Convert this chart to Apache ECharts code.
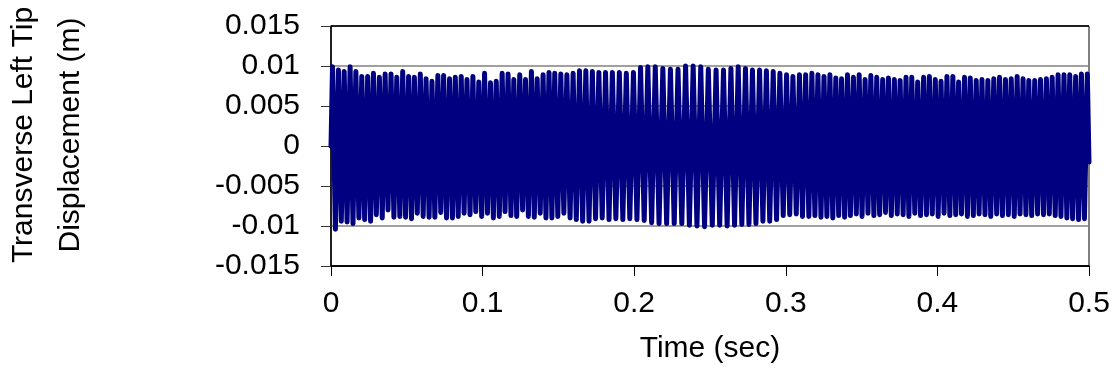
<!DOCTYPE html>
<html>
<head>
<meta charset="utf-8">
<script src="https://cdn.jsdelivr.net/npm/echarts@6/dist/echarts.min.js"></script>
<style>
html,body{margin:0;padding:0;background:#fff;}
#chart{width:1117px;height:373px;}
</style>
</head>
<body>
<div id="chart"></div>
<script>
// ---- data ----
const xTickLabels = ['0', '0.1', '0.2', '0.3', '0.4', '0.5'];
const yTickLabels = ['-0.015', '-0.01', '-0.005', '0', '0.005', '0.01', '0.015'];
const startPoint = [0, 0];
const endPoint = [0.5, -0.002];

const peakTime = [
  0.0010, 0.0049, 0.0087, 0.0126, 0.0164, 0.0203, 0.0242, 0.0280, 0.0319, 0.0357,
  0.0396, 0.0434, 0.0473, 0.0512, 0.0550, 0.0589, 0.0627, 0.0666, 0.0705, 0.0743,
  0.0782, 0.0820, 0.0859, 0.0897, 0.0936, 0.0975, 0.1013, 0.1052, 0.1090, 0.1129,
  0.1168, 0.1206, 0.1245, 0.1283, 0.1322, 0.1360, 0.1399, 0.1438, 0.1476,
  0.1516, 0.1556, 0.1597, 0.1639, 0.1681, 0.1724, 0.1767, 0.1811, 0.1856, 0.1902,
  0.1948, 0.1995, 0.2042, 0.2090, 0.2139, 0.2189, 0.2239, 0.2289, 0.2339, 0.2389,
  0.2439, 0.2489, 0.2540, 0.2589, 0.2638, 0.2686, 0.2734, 0.2780, 0.2827, 0.2872,
  0.2917, 0.2961, 0.3005, 0.3047, 0.3090, 0.3131, 0.3172, 0.3212, 0.3252, 0.3291, 0.3330,
  0.3368, 0.3407, 0.3446, 0.3484, 0.3523, 0.3561, 0.3600, 0.3639, 0.3677, 0.3716,
  0.3754, 0.3793, 0.3831, 0.3870, 0.3909, 0.3947, 0.3986, 0.4024, 0.4063, 0.4102,
  0.4140, 0.4179, 0.4217, 0.4256, 0.4294, 0.4333, 0.4372, 0.4410, 0.4449, 0.4487,
  0.4526, 0.4565, 0.4603, 0.4642, 0.4680, 0.4719, 0.4757, 0.4796, 0.4835, 0.4873,
  0.4912, 0.4950, 0.4989
];
const peakDisp = [
  0.0099, 0.0095, 0.0093, 0.0099, 0.0093, 0.0087, 0.0087, 0.0091, 0.0086, 0.0090,
  0.0090, 0.0086, 0.0093, 0.0087, 0.0086, 0.0090, 0.0084, 0.0081, 0.0088, 0.0088,
  0.0084, 0.0086,
  0.0087, 0.0083, 0.0087, 0.0080, 0.0091, 0.0079, 0.0081, 0.0091, 0.0090, 0.0083,
  0.0089, 0.0083, 0.0093, 0.0084, 0.0089, 0.0092, 0.0091, 0.0090, 0.0089, 0.0091,
  0.0094, 0.0094,
  0.0093, 0.0092, 0.0092, 0.0092, 0.0092, 0.0091, 0.0092, 0.0098, 0.0099, 0.0099,
  0.0097, 0.0096, 0.0096, 0.0100, 0.0100, 0.0099, 0.0096,
  0.0095, 0.0095, 0.0097, 0.0099, 0.0097, 0.0095, 0.0095, 0.0094, 0.0093, 0.0091,
  0.0089, 0.0087, 0.0089, 0.0089, 0.0091, 0.0089, 0.0087, 0.0089, 0.0085, 0.0084,
  0.0089, 0.0086, 0.0089, 0.0083, 0.0088, 0.0086, 0.0083, 0.0085, 0.0083, 0.0082,
  0.0086, 0.0086, 0.0080, 0.0086, 0.0087, 0.0083, 0.0081, 0.0087, 0.0087, 0.0080,
  0.0086, 0.0085,
  0.0082, 0.0083, 0.0082, 0.0084, 0.0086, 0.0083, 0.0084, 0.0087, 0.0084, 0.0082,
  0.0082, 0.0083, 0.0084, 0.0086, 0.0089, 0.0089, 0.0089, 0.0087, 0.0090, 0.0090
];
const troughTime = [
  0.0029, 0.0068, 0.0106, 0.0145, 0.0184, 0.0222, 0.0261, 0.0299, 0.0338, 0.0376,
  0.0415, 0.0454, 0.0492, 0.0531, 0.0569, 0.0608, 0.0647, 0.0685, 0.0724, 0.0762,
  0.0801, 0.0839, 0.0878, 0.0917, 0.0955, 0.0994, 0.1032, 0.1071, 0.1110, 0.1148,
  0.1187, 0.1225, 0.1264, 0.1302, 0.1341, 0.1380, 0.1418, 0.1457, 0.1496,
  0.1536, 0.1577, 0.1618, 0.1660, 0.1702, 0.1745, 0.1789, 0.1834, 0.1879, 0.1925,
  0.1971, 0.2018, 0.2066, 0.2115, 0.2164, 0.2214, 0.2264, 0.2314, 0.2364, 0.2414,
  0.2464, 0.2515, 0.2564, 0.2613, 0.2662, 0.2710, 0.2757, 0.2803, 0.2849, 0.2894,
  0.2939, 0.2983, 0.3026, 0.3069, 0.3110, 0.3152, 0.3192, 0.3232, 0.3271, 0.3310, 0.3349,
  0.3388, 0.3426, 0.3465, 0.3503, 0.3542, 0.3581, 0.3619, 0.3658, 0.3696, 0.3735,
  0.3774, 0.3812, 0.3851, 0.3889, 0.3928, 0.3966, 0.4005, 0.4044, 0.4082, 0.4121,
  0.4159, 0.4198, 0.4237, 0.4275, 0.4314, 0.4352, 0.4391, 0.4429, 0.4468, 0.4507,
  0.4545, 0.4584, 0.4622, 0.4661, 0.4700, 0.4738, 0.4777, 0.4815, 0.4854, 0.4892,
  0.4931, 0.4970
];
const troughDisp = [
  -0.0104, -0.0094, -0.0095, -0.0097, -0.0090, -0.0092, -0.0094, -0.0086, -0.0090, -0.0080,
  -0.0089, -0.0088, -0.0089, -0.0091, -0.0084, -0.0088, -0.0089, -0.0089, -0.0083, -0.0090,
  -0.0090, -0.0088,
  -0.0084, -0.0086, -0.0082, -0.0088, -0.0084, -0.0090, -0.0088, -0.0082, -0.0087, -0.0088,
  -0.0080, -0.0088, -0.0089, -0.0084, -0.0090, -0.0090, -0.0088, -0.0084, -0.0090, -0.0092,
  -0.0094, -0.0094,
  -0.0091, -0.0090, -0.0092, -0.0091, -0.0092, -0.0091, -0.0092, -0.0093, -0.0096, -0.0097,
  -0.0097, -0.0097, -0.0097, -0.0099, -0.0100, -0.0101, -0.0099,
  -0.0099, -0.0100, -0.0099, -0.0098, -0.0098, -0.0097, -0.0094, -0.0094, -0.0092, -0.0087,
  -0.0086, -0.0085, -0.0088, -0.0088, -0.0087, -0.0089, -0.0088, -0.0090, -0.0087, -0.0089,
  -0.0087, -0.0085, -0.0088, -0.0084, -0.0087, -0.0086, -0.0083, -0.0087, -0.0085, -0.0086,
  -0.0088, -0.0084, -0.0087, -0.0086, -0.0085, -0.0088, -0.0084, -0.0087, -0.0086, -0.0085,
  -0.0088, -0.0087,
  -0.0085, -0.0086, -0.0088, -0.0085, -0.0087, -0.0086, -0.0088, -0.0085, -0.0086, -0.0087,
  -0.0085, -0.0086, -0.0085, -0.0087, -0.0088, -0.0090, -0.0091, -0.0092, -0.0091
];

// ---- build series points (alternating peaks and troughs) ----
const seriesData = [startPoint];
for (let i = 0; i < peakTime.length; i++) {
  seriesData.push([peakTime[i], peakDisp[i]]);
  if (i < troughTime.length) seriesData.push([troughTime[i], troughDisp[i]]);
}
seriesData.push(endPoint);

const yMin = -0.015, yMax = 0.015, yStep = 0.005;
const xMin = 0, xMax = 0.5, xStep = 0.1;
const FONT = '"Liberation Sans", Arial, sans-serif';

const chart = echarts.init(document.getElementById('chart'), null, {renderer: 'canvas'});
chart.setOption({
  animation: false,
  backgroundColor: '#ffffff',
  grid: {
    left: 331, right: 28, top: 26, bottom: 107,
    show: true, borderColor: '#000000', borderWidth: 1, backgroundColor: 'transparent'
  },
  xAxis: {
    type: 'value', min: xMin, max: xMax, interval: xStep,
    name: 'Time (sec)', nameLocation: 'middle', nameGap: 68,
    nameTextStyle: {fontFamily: FONT, fontSize: 30, color: '#000'},
    axisLine: {show: true, onZero: false, lineStyle: {color: '#000', width: 1.5}},
    axisTick: {show: true, inside: false, length: 10, lineStyle: {color: '#000', width: 1}},
    axisLabel: {
      margin: 23, fontFamily: FONT, fontSize: 30, color: '#000',
      formatter: v => xTickLabels[Math.round((v - xMin) / xStep)]
    },
    splitLine: {show: false}
  },
  yAxis: {
    type: 'value', min: yMin, max: yMax, interval: yStep,
    axisLine: {show: true, onZero: false, lineStyle: {color: '#000', width: 1.5}},
    axisTick: {show: true, inside: false, length: 10, lineStyle: {color: '#333', width: 1}},
    axisLabel: {
      margin: 31, fontFamily: FONT, fontSize: 30, color: '#000',
      formatter: v => yTickLabels[Math.round((v - yMin) / yStep)]
    },
    splitLine: {
      show: true,
      lineStyle: {
        color: ['#000000', '#808080', '#808080', '#808080', '#808080', '#808080', '#000000'],
        width: 1.5
      }
    }
  },
  series: [{
    type: 'line',
    data: seriesData,
    showSymbol: false,
    symbol: 'none',
    clip: true,
    lineStyle: {color: '#000080', width: 5, join: 'round', cap: 'round'}
  }],
  graphic: [{
    type: 'text',
    x: 47, y: 135,
    rotation: Math.PI / 2,
    style: {
      text: 'Transverse Left Tip\nDisplacement (m)',
      font: '30px "Liberation Sans", Arial, sans-serif',
      fill: '#000',
      align: 'center',
      verticalAlign: 'middle',
      lineHeight: 47
    }
  }]
});
</script>
</body>
</html>
